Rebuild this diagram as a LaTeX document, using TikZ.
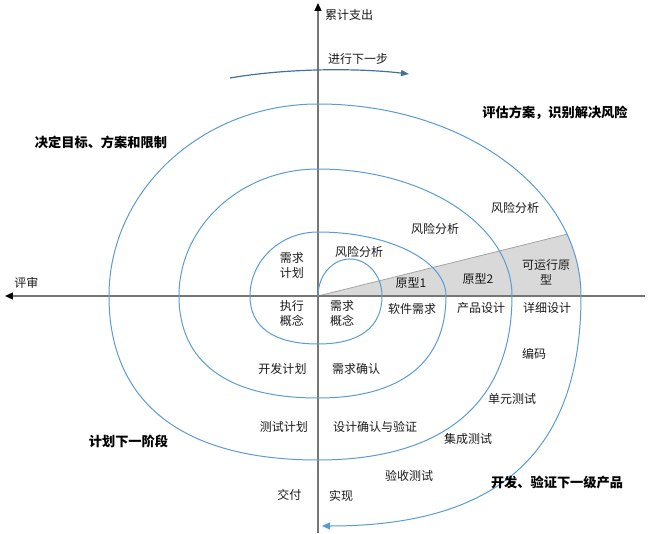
\documentclass[tikz,border=0pt]{standalone}
\usepackage{fontspec}
\newfontfamily\cjk{Noto Sans CJK SC}
\usetikzlibrary{arrows.meta}
\definecolor{spiral}{RGB}{91,155,213}
\definecolor{axisc}{RGB}{118,118,118}
\definecolor{nextc}{RGB}{65,113,156}
\definecolor{wedgec}{RGB}{217,217,217}
\definecolor{wedgeline}{RGB}{165,165,165}
\begin{document}
\begin{tikzpicture}[x=1pt,y=1pt,
  lbl/.style={font=\cjk\fontsize{12}{15}\selectfont, align=center, inner sep=0pt, text=black!90},
  hdr/.style={font=\cjk\bfseries\fontsize{13.2}{15}\selectfont, inner sep=0pt, text=black},
  spir/.style={draw=spiral, line width=1pt},
  ax/.style={draw=axisc, line width=1.3pt},
  axtip/.style={-{Triangle[length=8pt,width=7pt,black]}},
]
\useasboundingbox (-318,-237) rectangle (335,296);
\coordinate (O) at (0,0);
% grey wedge
\coordinate (W) at (18.78:263pt and 192pt);
\fill[wedgec] (O) -- (W) arc[start angle=18.78, end angle=0, x radius=263pt, y radius=192pt] -- cycle;
\draw[wedgeline, line width=0.8pt] (O) -- (W);
% axes
\coordinate (xR) at (327,0);
\coordinate (xL) at (-313,0);
\coordinate (yB) at (0,-237);
\coordinate (yT) at (0,293);
\draw[ax, axtip] (xR) -- (xL);
\draw[ax, axtip] (yB) -- (yT);
% spiral
\coordinate (sEnd) at (4,-230);
\draw[spir, -{Triangle[length=8pt,width=7pt,fill=spiral]}] (O)
 arc[start angle=180, end angle=0, x radius=32pt, y radius=37pt]
 .. controls (64,-31.2) and (41.6,-48) .. (0,-48)
 .. controls (-44.2,-48) and (-68,-31.2) .. (-68,0)
 arc[start angle=180, end angle=90, x radius=68pt, y radius=64pt]
 arc[start angle=90, end angle=0, x radius=128pt, y radius=64pt]
 .. controls (128,-66.3) and (83.2,-102) .. (0,-102)
 .. controls (-90.4,-102) and (-139,-66.3) .. (-139,0)
 arc[start angle=180, end angle=90, x radius=139pt, y radius=127pt]
 arc[start angle=90, end angle=0, x radius=194pt, y radius=127pt]
 .. controls (194,-106.6) and (126.1,-164) .. (0,-164)
 .. controls (-135.9,-164) and (-209,-106.6) .. (-209,0)
 arc[start angle=180, end angle=90, x radius=209pt, y radius=192pt]
 arc[start angle=90, end angle=0, x radius=263pt, y radius=192pt]
 .. controls (263,-161) and (175,-230) .. (sEnd);
% next step arrow
\coordinate (nA) at (-88,218);
\coordinate (nB) at (91,222);
\draw[nextc, line width=1.2pt, -{Triangle[length=8pt,width=6pt]}] (nA) .. controls (-30,228) and (40,228) .. (nB);
% axis labels
\node[lbl, anchor=west] (ljzc) at (7,281) {累计支出};
\node[lbl] (ps) at (-291.5,13) {评审};
\node[lbl] (jxxyb) at (40,237) {进行下一步};
% quadrant headers
\node[hdr] (h1) at (-217,154) {决定目标、方案和限制};
\node[hdr] (h2) at (237,183) {评估方案，识别解决风险};
\node[hdr] (h3) at (-189.5,-145) {计划下一阶段};
\node[hdr] (h4) at (239,-186) {开发、验证下一级产品};
% labels
\node[lbl] (xqjh) at (-26,31) {需求\\计划};
\node[lbl] (zxgn) at (-26,-17) {执行\\概念};
\node[lbl] (xqgn) at (24,-17) {需求\\概念};
\node[lbl] (fx1) at (41,44) {风险分析};
\node[lbl] (yx1) at (93,13) {原型1};
\node[lbl] (rjxq) at (94,-13) {软件需求};
\node[lbl] (fx2) at (117,67) {风险分析};
\node[lbl] (fx3) at (197,88) {风险分析};
\node[lbl] (yx2) at (160,17) {原型2};
\node[lbl] (kyx) at (228,24) {可运行原\\型};
\node[lbl] (cpsj) at (163,-12) {产品设计};
\node[lbl] (xxsj) at (229,-12) {详细设计};
\node[lbl] (bm) at (216,-58) {编码};
\node[lbl] (dycs) at (194,-103) {单元测试};
\node[lbl] (jccs) at (150,-143) {集成测试};
\node[lbl] (yscs) at (91,-180) {验收测试};
\node[lbl] (sx) at (23,-200) {实现};
\node[lbl] (xqqr) at (38,-73) {需求确认};
\node[lbl] (sjqr) at (57,-131) {设计确认与验证};
\node[lbl] (kfjh) at (-35.5,-73) {开发计划};
\node[lbl] (csjh) at (-34,-131) {测试计划};
\node[lbl] (jf) at (-28.5,-199) {交付};
\end{tikzpicture}
\end{document}
